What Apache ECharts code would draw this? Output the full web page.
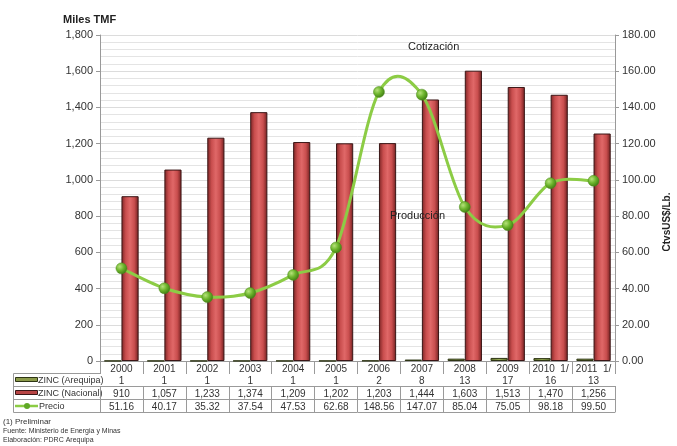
<!DOCTYPE html>
<html><head><meta charset="utf-8">
<script src="https://cdn.jsdelivr.net/npm/echarts@6/dist/echarts.min.js"></script>
<style>html,body{margin:0;padding:0;background:#fff}#c{width:677px;height:446px}</style>
</head><body><div id="c"></div>
<script>
const years = ['2000','2001','2002','2003','2004','2005','2006','2007','2008','2009','2010  1/','2011  1/'];
const arequipa = [1,1,1,1,1,1,2,8,13,17,16,13];
const nacional = [910,1057,1233,1374,1209,1202,1203,1444,1603,1513,1470,1256];
const precio = [51.16,40.17,35.32,37.54,47.53,62.68,148.56,147.07,85.04,75.05,98.18,99.50];
const leftTicks = {min:0, max:1800, interval:200};
const rightTicks = {min:0, max:180, interval:20};

const font = 'Liberation Sans, Arial, sans-serif';
const fmtInt = v => Number(v).toLocaleString('en-US');
const tableColor = '#9a9a9a';
const lineColor = '#8ccc45';

function rowAxis(offset, formatter, showLabel, showTick) {
  return {
    type:'category', data: years, position:'bottom', offset: offset, gridIndex:0,
    axisLine:{show:true, lineStyle:{color:tableColor, width:1}},
    axisTick:{show:showTick, length:13, interval:0, lineStyle:{color:tableColor}},
    axisLabel:{show:showLabel, interval:0, margin:3, fontSize:10, color:'#333', fontFamily:font, formatter: formatter},
    splitLine:{show:false}
  };
}

const redGrad = new echarts.graphic.LinearGradient(0,0,1,0,[
  {offset:0,color:'#7a2424'},{offset:0.25,color:'#c94e4e'},{offset:0.5,color:'#e06868'},
  {offset:0.75,color:'#c94e4e'},{offset:1,color:'#6e1e1e'}]);
const greenBarGrad = new echarts.graphic.LinearGradient(0,0,1,0,[
  {offset:0,color:'#5b6a2a'},{offset:0.5,color:'#9aae55'},{offset:1,color:'#5b6a2a'}]);
const dotGrad = new echarts.graphic.RadialGradient(0.35,0.35,0.7,[
  {offset:0,color:'#b6e27a'},{offset:0.5,color:'#6cb42c'},{offset:1,color:'#3e7a12'}]);

// Catmull-Rom style smoothing (as in the original spreadsheet chart), drawn through the axes
function renderSegment(params, api) {
  const i = params.dataIndex;
  const n = precio.length;
  if (i >= n - 1) return null;
  const P = k => api.coord([Math.max(0, Math.min(n - 1, k)), precio[Math.max(0, Math.min(n - 1, k))]]);
  const p0 = P(i - 1), p1 = P(i), p2 = P(i + 1), p3 = P(i + 2);
  const c1 = [p1[0] + (p2[0] - p0[0]) / 6, p1[1] + (p2[1] - p0[1]) / 6];
  const c2 = [p2[0] - (p3[0] - p1[0]) / 6, p2[1] - (p3[1] - p1[1]) / 6];
  return {
    type:'bezierCurve',
    shape:{x1:p1[0], y1:p1[1], cpx1:c1[0], cpy1:c1[1], cpx2:c2[0], cpy2:c2[1], x2:p2[0], y2:p2[1]},
    style:{stroke:lineColor, lineWidth:3, fill:null, lineCap:'round'}
  };
}

const chart = echarts.init(document.getElementById('c'), null, {renderer:'canvas'});
chart.setOption({
  animation:false,
  backgroundColor:'#fff',
  textStyle:{fontFamily:font},
  title:{text:'Miles TMF', left:58, top:9, textStyle:{fontSize:11, fontWeight:'bold', color:'#222', fontFamily:font}},
  grid:{left:100, right:62, top:35, bottom:85, containLabel:false},
  xAxis:[
    rowAxis(0, v => v, true, true),
    rowAxis(12, (v,i) => String(arequipa[i]), true, true),
    rowAxis(25, (v,i) => fmtInt(nacional[i]), true, true),
    rowAxis(38, (v,i) => precio[i].toFixed(2), true, true),
    rowAxis(51, v => '', false, false)
  ],
  yAxis:[
    {type:'value', min:leftTicks.min, max:leftTicks.max, interval:leftTicks.interval, position:'left',
     axisLine:{show:true, lineStyle:{color:'#999'}},
     axisTick:{show:true, length:4, lineStyle:{color:'#999'}},
     axisLabel:{fontSize:11, color:'#333', margin:7, fontFamily:font, formatter: v => fmtInt(v)},
     splitLine:{show:true, lineStyle:{color:'#dcdcdc', width:1}},
     minorTick:{show:false, splitNumber:5},
     minorSplitLine:{show:true, lineStyle:{color:'#e4e4e4', width:1}}},
    {type:'value', min:rightTicks.min, max:rightTicks.max, interval:rightTicks.interval, position:'right',
     axisLine:{show:true, lineStyle:{color:'#999'}},
     axisTick:{show:true, length:4, lineStyle:{color:'#999'}},
     axisLabel:{fontSize:11, color:'#333', margin:7, fontFamily:font, formatter: v => v.toFixed(2)},
     splitLine:{show:false}}
  ],
  series:[
    {name:'ZINC (Arequipa)', type:'bar', xAxisIndex:0, yAxisIndex:0, data:arequipa,
     barGap:'0%', barCategoryGap:'20%',
     itemStyle:{color:greenBarGrad, borderColor:'#2e3514', borderWidth:1}},
    {name:'ZINC (Nacional)', type:'bar', xAxisIndex:0, yAxisIndex:0, data:nacional,
     barGap:'0%', barCategoryGap:'20%',
     itemStyle:{color:redGrad, borderColor:'#3a1616', borderWidth:1}},
    {name:'Precio curve', type:'custom', xAxisIndex:0, yAxisIndex:1,
     data: precio.map((v,i) => [i, v]), renderItem: renderSegment, z:4, silent:true},
    {name:'Precio', type:'line', xAxisIndex:0, yAxisIndex:1, data:precio,
     symbol:'circle', symbolSize:11,
     lineStyle:{width:0, opacity:0},
     itemStyle:{color:dotGrad, borderColor:'#4d8a1c', borderWidth:0.5},
     z:5}
  ],
  graphic:[
    {type:'text', left:408, top:41, z:100, style:{text:'Cotización', fontSize:11, fill:'#222', fontFamily:font}},
    {type:'text', left:390, top:210, z:100, style:{text:'Producción', fontSize:11, fill:'#222', fontFamily:font}},
    {type:'text', x:667, y:222, rotation:Math.PI/2, z:100, style:{text:'CtvsUS$/Lb.', fontSize:10, fontWeight:'bold', fill:'#222', fontFamily:font, align:'center', verticalAlign:'middle'}},
    // legend column of table
    {type:'line', shape:{x1:13.5,y1:373.5,x2:100,y2:373.5}, style:{stroke:tableColor}},
    {type:'line', shape:{x1:13.5,y1:386.5,x2:100,y2:386.5}, style:{stroke:tableColor}},
    {type:'line', shape:{x1:13.5,y1:399.5,x2:100,y2:399.5}, style:{stroke:tableColor}},
    {type:'line', shape:{x1:13.5,y1:412.5,x2:100,y2:412.5}, style:{stroke:tableColor}},
    {type:'line', shape:{x1:13.5,y1:373.5,x2:13.5,y2:412.5}, style:{stroke:tableColor}},
    {type:'rect', shape:{x:15.5,y:377.5,width:22,height:4}, style:{fill:'#8b9a4a', stroke:'#2e3514', lineWidth:1}},
    {type:'text', x:38, y:380.5, style:{text:'ZINC (Arequipa)', fontSize:9, fill:'#333', fontFamily:font, verticalAlign:'middle'}},
    {type:'rect', shape:{x:15.5,y:390.5,width:22,height:4}, style:{fill:'#b84444', stroke:'#3a1616', lineWidth:1}},
    {type:'text', x:38, y:393.5, style:{text:'ZINC (Nacional)', fontSize:9, fill:'#333', fontFamily:font, verticalAlign:'middle'}},
    {type:'line', shape:{x1:15,y1:406,x2:38,y2:406}, style:{stroke:lineColor, lineWidth:2.5}},
    {type:'circle', shape:{cx:27,cy:406,r:3}, style:{fill:'#5fa826'}},
    {type:'text', x:39, y:406.5, style:{text:'Precio', fontSize:9, fill:'#333', fontFamily:font, verticalAlign:'middle'}},
    // footnotes
    {type:'text', x:3, y:418, style:{text:'(1) Preliminar', fontSize:8, fill:'#333', fontFamily:font}},
    {type:'text', x:3, y:428, style:{text:'Fuente: Ministerio de Energia y Minas', fontSize:7, fill:'#333', fontFamily:font}},
    {type:'text', x:3, y:437, style:{text:'Elaboración: PDRC Arequipa', fontSize:7, fill:'#333', fontFamily:font}}
  ]
});
</script></body></html>
